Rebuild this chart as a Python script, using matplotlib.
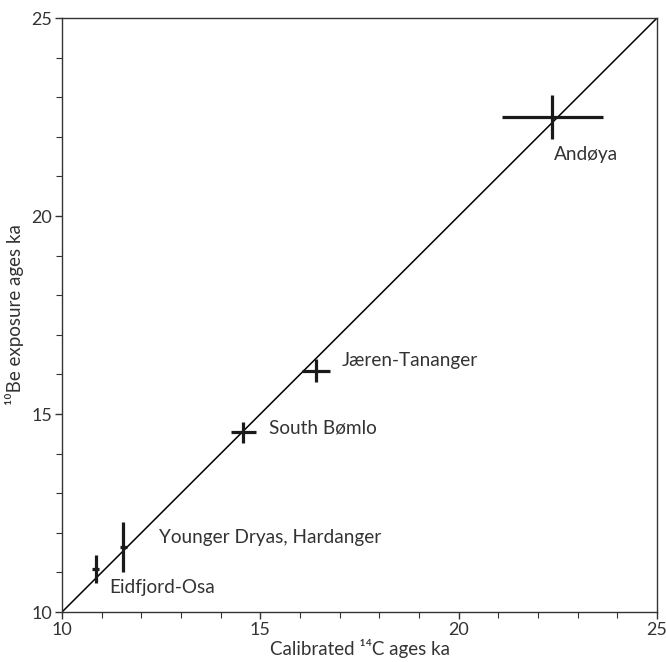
import matplotlib.pyplot as plt
from matplotlib.ticker import MultipleLocator

plt.rcParams['font.family'] = ['Lato', 'DejaVu Sans']

sites = ["Eidfjord-Osa", "Younger Dryas, Hardanger", "South Bømlo", "Jæren-Tananger", "Andøya"]
c14_age = [10.85, 11.55, 14.57, 16.40, 22.36]
c14_err = [0.09, 0.10, 0.32, 0.35, 1.27]
be_age = [11.08, 11.64, 14.54, 16.09, 22.50]
be_err = [0.35, 0.64, 0.27, 0.29, 0.56]

# label offsets (data units) from each point
label_dx = [0.35, 0.9, 0.65, 0.65, 0.05]
label_dy = [-0.45, 0.25, 0.1, 0.25, -0.95]

fig = plt.figure(figsize=(6.66, 6.62), dpi=100)
ax = fig.add_axes([0.0931, 0.0755, 0.8934, 0.8973])

ax.plot([10, 25], [10, 25], color="black", lw=1.1)
ax.errorbar(c14_age, be_age, xerr=c14_err, yerr=be_err, fmt="none",
            ecolor="#1a1a1a", elinewidth=2.3, capsize=0)

for i, s in enumerate(sites):
    ax.text(c14_age[i] + label_dx[i], be_age[i] + label_dy[i], s,
            fontsize=13.7, color="#333333", va="center", ha="left")

ax.set_xlim(10, 25)
ax.set_ylim(10, 25)
ax.xaxis.set_major_locator(MultipleLocator(5))
ax.yaxis.set_major_locator(MultipleLocator(5))
ax.xaxis.set_minor_locator(MultipleLocator(1))
ax.yaxis.set_minor_locator(MultipleLocator(1))
ax.tick_params(which="both", direction="out", colors="#333333", labelsize=13, top=False, right=False)
ax.tick_params(which="major", length=5, width=1, pad=2)
ax.tick_params(which="minor", length=4, width=0.8)
for sp in ax.spines.values():
    sp.set_color("#333333")
    sp.set_linewidth(1.0)

ax.set_xlabel("Calibrated ¹⁴C ages ka", fontsize=13.5, color="#333333", labelpad=1)
ax.set_ylabel("¹⁰Be exposure ages ka", fontsize=13.5, color="#333333", labelpad=5)

fig.savefig("out.png", dpi=100)
